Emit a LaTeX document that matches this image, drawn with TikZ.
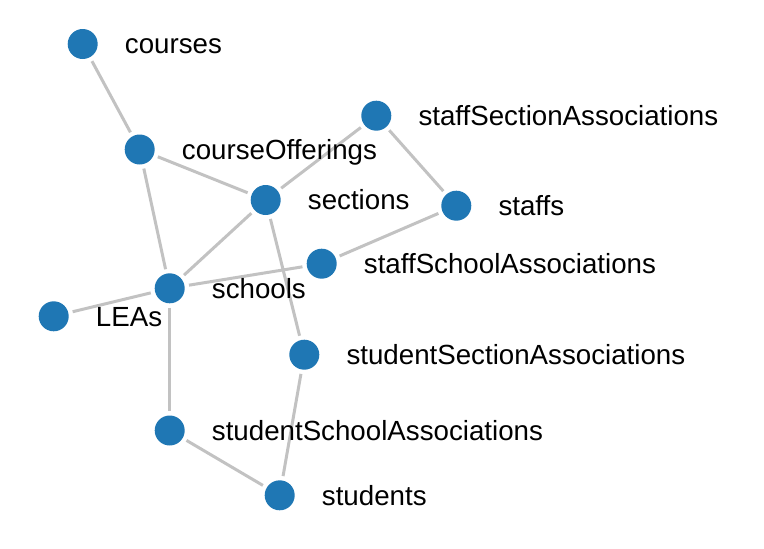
\documentclass[tikz,border=0pt]{standalone}
\usepackage{fontspec}
\setmainfont{Liberation Sans}
\usetikzlibrary{backgrounds}
\definecolor{nodeblue}{HTML}{1F77B4}
\definecolor{edgegray}{HTML}{C2C2C2}
\tikzset{
  vert/.style={circle,fill=nodeblue,minimum size=30pt,inner sep=0pt,outer sep=4.5pt},
  lbl/.style={anchor=base west,inner sep=0pt,font=\fontsize{27.7}{27.7}\selectfont},
  link/.style={draw=edgegray,line width=3pt}
}
\begin{document}
\begin{tikzpicture}[x=1pt,y=-1pt]
\useasboundingbox (0,0) rectangle (764,549);
\node[vert] (courses) at (82.7,44) {};
\node[vert] (courseOfferings) at (139.7,149.5) {};
\node[vert] (staffSectionAssociations) at (376.3,115.7) {};
\node[vert] (sections) at (265.7,200) {};
\node[vert] (staffs) at (456.3,205.7) {};
\node[vert] (staffSchoolAssociations) at (321.7,263.7) {};
\node[vert] (schools) at (169.7,288.3) {};
\node[vert] (LEAs) at (53.7,316.3) {};
\node[vert] (studentSectionAssociations) at (304.3,354.7) {};
\node[vert] (studentSchoolAssociations) at (169.7,430.5) {};
\node[vert] (students) at (279.7,495.3) {};
\foreach \n in {courses,courseOfferings,staffSectionAssociations,sections,staffs,staffSchoolAssociations,schools,LEAs,studentSectionAssociations,studentSchoolAssociations,students}{
  \node[lbl] (l-\n) at ([xshift=42pt,yshift=-9.7pt]\n.center) {\n};
}
\begin{scope}[on background layer]
\draw[link] (courses) -- (courseOfferings);
\draw[link] (courseOfferings) -- (sections);
\draw[link] (courseOfferings) -- (schools);
\draw[link] (sections) -- (staffSectionAssociations);
\draw[link] (staffSectionAssociations) -- (staffs);
\draw[link] (staffs) -- (staffSchoolAssociations);
\draw[link] (staffSchoolAssociations) -- (schools);
\draw[link] (sections) -- (schools);
\draw[link] (sections) -- (studentSectionAssociations);
\draw[link] (schools) -- (LEAs);
\draw[link] (schools) -- (studentSchoolAssociations);
\draw[link] (studentSchoolAssociations) -- (students);
\draw[link] (studentSectionAssociations) -- (students);
\end{scope}
\end{tikzpicture}
\end{document}
